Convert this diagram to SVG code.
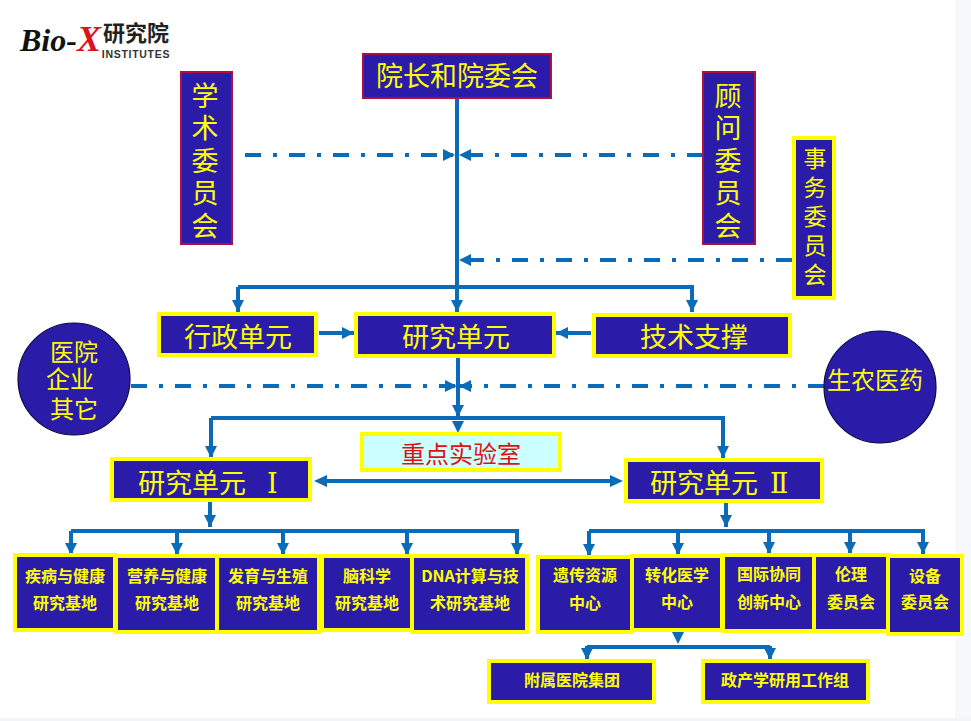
<svg xmlns="http://www.w3.org/2000/svg" width="971" height="721" viewBox="0 0 971 721">
<style>
text{font-family:"Noto Sans CJK SC","Liberation Sans",sans-serif;fill:#ffff00;text-anchor:middle}
.n{fill:#2a1ca8;stroke:#ffff00;stroke-width:4}
.r{fill:#2a1ca8;stroke:#b01040;stroke-width:2}
.c{fill:#2a1ca8;stroke:#0a0a40;stroke-width:1.2}
.l{font-size:27px}.m{font-size:24px}.s{font-size:16px;font-weight:700}
.v{writing-mode:vertical-rl;text-anchor:start;text-orientation:upright}
.k{font-family:"DejaVu Serif",serif}
.w{fill:none;stroke:#0a6cb8;stroke-width:4}
.d{fill:none;stroke:#0a6cb8;stroke-width:4;stroke-dasharray:16 12 4 12}
.h{fill:#0a6cb8}
</style>
<defs>
<marker id="a" markerUnits="userSpaceOnUse" markerWidth="14" markerHeight="14" refX="12" refY="7" orient="auto"><path d="M0 1L12 7L0 13Z" fill="#0a6cb8"/></marker>
</defs>
<rect width="971" height="721" fill="#fff"/>
<rect x="955" width="16" height="721" fill="#f7f8fb"/>
<rect y="718" width="971" height="3" fill="#f3f4f8"/>
<g id="logo">
<text x="20" y="51" style="text-anchor:start;font-family:'Liberation Serif',serif;font-style:italic;font-weight:700;font-size:32px;fill:#111">Bio-<tspan style="fill:#e01020;font-size:36px">X</tspan></text>
<text x="136" y="41" style="font-size:22px;font-weight:700;fill:#222">研究院</text>
<text x="136" y="58" style="font-family:'Liberation Sans',sans-serif;font-size:10.5px;font-weight:700;letter-spacing:.7px;fill:#333">INSTITUTES</text>
</g>
<g id="connectors">
<path class="w" d="M457 98V312" marker-end="url(#a)"/>
<path class="d" d="M245 155H455" marker-end="url(#a)"/>
<path class="d" d="M703 155H459" marker-end="url(#a)"/>
<path class="d" d="M792 260H459" marker-end="url(#a)"/>
<path class="w" d="M238 287H692V312" marker-end="url(#a)"/>
<path class="w" d="M238 287V312" marker-end="url(#a)"/>
<path class="w" d="M319 333H354" marker-end="url(#a)"/>
<path class="w" d="M591 333H556" marker-end="url(#a)"/>
<path class="w" d="M458 358V417" marker-end="url(#a)"/>
<path class="d" d="M131 386H457" marker-end="url(#a)"/>
<path class="d" d="M824 386H459" marker-end="url(#a)"/>
<path class="h" d="M452 421H464L458 433Z"/>
<path class="w" d="M211 418H723V458" marker-end="url(#a)"/>
<path class="w" d="M211 418V458" marker-end="url(#a)"/>
<path class="w" d="M325 481H612"/>
<path class="h" d="M314 481L327 475V487ZM623 481L610 475V487Z"/>
<path class="w" d="M210 502V527" marker-end="url(#a)"/>
<path class="w" d="M726 502V527" marker-end="url(#a)"/>
<path class="w" d="M71 531H517V555" marker-end="url(#a)"/>
<path class="w" d="M71 531V555" marker-end="url(#a)"/>
<path class="w" d="M177 531V555" marker-end="url(#a)"/>
<path class="w" d="M283 531V555" marker-end="url(#a)"/>
<path class="w" d="M407 531V555" marker-end="url(#a)"/>
<path class="w" d="M589 531H923V554" marker-end="url(#a)"/>
<path class="w" d="M589 531V556" marker-end="url(#a)"/>
<path class="w" d="M678 531V555" marker-end="url(#a)"/>
<path class="w" d="M769 531V554" marker-end="url(#a)"/>
<path class="w" d="M850 531V554" marker-end="url(#a)"/>
<path class="h" d="M672 632H684L678 644Z"/>
<path class="w" d="M587 647H770"/>
<path class="w" d="M587 646V660" marker-end="url(#a)"/>
<path class="w" d="M770 646V660" marker-end="url(#a)"/>
</g>
<g id="n1"><rect class="r" x="363" y="54" width="188" height="44"/><text class="l" x="457" y="86">院长和院委会</text></g>
<g id="n2"><rect class="r" x="181" y="72" width="51" height="172"/><text class="l v" x="205" y="82" style="letter-spacing:5.5px">学术委员会</text></g>
<g id="n3"><rect class="r" x="703" y="72" width="52" height="172"/><text class="l v" x="728" y="82" style="letter-spacing:5.5px">顾问委员会</text></g>
<g id="n4"><rect class="n" x="794" y="138" width="40" height="160"/><text class="v" x="815" y="147" style="font-size:23px;letter-spacing:6px">事务委员会</text></g>
<g id="n5"><rect class="n" x="159" y="314" width="157" height="41"/><text class="l" x="238" y="347">行政单元</text></g>
<g id="n6"><rect class="n" x="356" y="314" width="198" height="42"/><text class="l" x="456" y="347">研究单元</text></g>
<g id="n7"><rect class="n" x="594" y="315" width="196" height="41"/><text class="l" x="694" y="347">技术支撑</text></g>
<g id="n8"><circle class="c" cx="74" cy="379" r="56"/><text class="m" style="font-family:'Liberation Sans','Noto Sans CJK SC',sans-serif"><tspan x="74" y="361">医院</tspan><tspan x="70" y="388">企业</tspan><tspan x="74" y="418">其它</tspan></text></g>
<g id="n9"><circle class="c" cx="880" cy="387" r="56"/><text class="m" x="875" y="389">生农医药</text></g>
<g id="n10"><rect x="362" y="434" width="198" height="36" fill="#ccffff" stroke="#ffff00" stroke-width="4"/><text class="m" x="461" y="463" style="fill:#e01010">重点实验室</text></g>
<g id="n11"><rect class="n" x="112" y="459" width="198" height="41"/><text class="l" style="text-anchor:start" x="138" y="493">研究单元 <tspan class="k" x="267">Ⅰ</tspan></text></g>
<g id="n12"><rect class="n" x="626" y="460" width="196" height="41"/><text class="l" style="text-anchor:start" x="650" y="493">研究单元 <tspan class="k" x="770">Ⅱ</tspan></text></g>
<g id="n13"><rect class="n" x="15" y="555" width="100" height="75"/><text class="s"><tspan x="65" y="582">疾病与健康</tspan><tspan x="65" y="609">研究基地</tspan></text></g>
<g id="n14"><rect class="n" x="116" y="556" width="101" height="76"/><text class="s"><tspan x="167" y="582">营养与健康</tspan><tspan x="167" y="609">研究基地</tspan></text></g>
<g id="n15"><rect class="n" x="217" y="556" width="102" height="76"/><text class="s"><tspan x="268" y="582">发育与生殖</tspan><tspan x="268" y="609">研究基地</tspan></text></g>
<g id="n16"><rect class="n" x="322" y="556" width="90" height="74"/><text class="s"><tspan x="367" y="582">脑科学</tspan><tspan x="367" y="609">研究基地</tspan></text></g>
<g id="n17"><rect class="n" x="412" y="556" width="115" height="76"/><text class="s"><tspan x="470" y="582">DNA计算与技</tspan><tspan x="470" y="609">术研究基地</tspan></text></g>
<g id="n18"><rect class="n" x="538" y="557" width="94" height="75"/><text class="s"><tspan x="585" y="581">遗传资源</tspan><tspan x="585" y="609">中心</tspan></text></g>
<g id="n19"><rect class="n" x="632" y="556" width="90" height="74"/><text class="s"><tspan x="677" y="581">转化医学</tspan><tspan x="677" y="608">中心</tspan></text></g>
<g id="n20"><rect class="n" x="723" y="555" width="91" height="76"/><text class="s"><tspan x="769" y="580">国际协同</tspan><tspan x="769" y="608">创新中心</tspan></text></g>
<g id="n21"><rect class="n" x="814" y="555" width="74" height="76"/><text class="s"><tspan x="851" y="580">伦理</tspan><tspan x="851" y="608">委员会</tspan></text></g>
<g id="n22"><rect class="n" x="888" y="556" width="74" height="78"/><text class="s"><tspan x="925" y="582">设备</tspan><tspan x="925" y="608">委员会</tspan></text></g>
<g id="n23"><rect class="n" x="489" y="661" width="165" height="41"/><text class="s" x="572" y="686">附属医院集团</text></g>
<g id="n24"><rect class="n" x="703" y="661" width="165" height="41"/><text class="s" x="785" y="686">政产学研用工作组</text></g>
</svg>
